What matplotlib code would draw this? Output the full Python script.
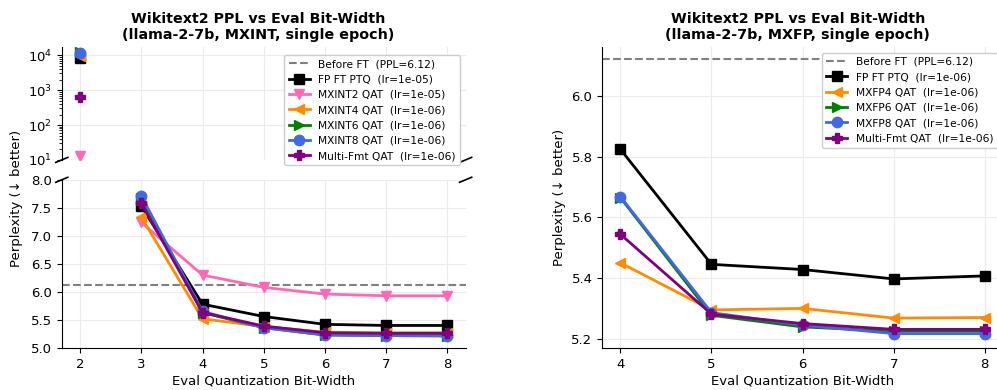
import matplotlib.pyplot as plt
import numpy as np

# ---- left panel: MXINT ----
bits_int = [2, 3, 4, 5, 6, 7, 8]
fp_int = [8500, 7.53, 5.78, 5.56, 5.42, 5.40, 5.40]
mxint2 = [13, 7.24, 6.30, 6.08, 5.96, 5.93, 5.93]
mxint4 = [9600, 7.33, 5.52, 5.38, 5.28, 5.27, 5.27]
mxint6 = [12000, 7.68, 5.63, 5.36, 5.23, 5.22, 5.22]
mxint8 = [11500, 7.71, 5.65, 5.36, 5.23, 5.22, 5.21]
multi_int = [620, 7.58, 5.63, 5.39, 5.27, 5.26, 5.26]

# ---- right panel: MXFP ----
bits_fp = [4, 5, 6, 7, 8]
fp_fp = [5.824, 5.445, 5.428, 5.397, 5.407]
mxfp4 = [5.45, 5.295, 5.30, 5.268, 5.27]
mxfp6 = [5.665, 5.277, 5.239, 5.225, 5.225]
mxfp8 = [5.668, 5.286, 5.245, 5.217, 5.217]
multi_fp = [5.544, 5.281, 5.25, 5.231, 5.231]

before_ft = 6.12

plt.rcParams['xtick.labelsize'] = 9.5
plt.rcParams['ytick.labelsize'] = 9.5

fig = plt.figure(figsize=(9.97, 3.9), dpi=100)
ax_top = fig.add_axes([0.062, 0.590, 0.405, 0.289])
ax_bot = fig.add_axes([0.062, 0.108, 0.405, 0.431])
ax_r = fig.add_axes([0.604, 0.108, 0.402, 0.771])

int_series = [
    (fp_int, 'FP FT PTQ  (lr=1e-05)', 'black', 's'),
    (mxint2, 'MXINT2 QAT  (lr=1e-05)', 'hotpink', 'v'),
    (mxint4, 'MXINT4 QAT  (lr=1e-06)', 'darkorange', '<'),
    (mxint6, 'MXINT6 QAT  (lr=1e-06)', 'green', '>'),
    (mxint8, 'MXINT8 QAT  (lr=1e-06)', 'royalblue', 'o'),
    (multi_int, 'Multi-Fmt QAT  (lr=1e-06)', 'purple', 'P'),
]

handles = []
h = ax_bot.axhline(before_ft, color='gray', ls='--', lw=1.5, label='Before FT  (PPL=6.12)')
handles.append(h)
for vals, lab, col, mk in int_series:
    ax_top.plot(bits_int[:1], vals[:1], color=col, marker=mk, ms=7.5, ls='none')
    l, = ax_bot.plot(bits_int[1:], vals[1:], color=col, marker=mk, ms=7.5, lw=2, label=lab)
    handles.append(l)

ax_top.set_yscale('log')
ax_top.set_ylim(10, 17000)
ax_bot.set_ylim(5.0, 8.0)
for a in (ax_top, ax_bot):
    a.set_xlim(1.7, 8.3)
    a.grid(True, color='#ebebeb', lw=0.8)
    a.spines['right'].set_visible(False)
    a.set_axisbelow(True)
ax_top.spines['bottom'].set_visible(False)
ax_top.spines['top'].set_visible(False)
ax_bot.spines['top'].set_visible(False)
ax_top.tick_params(axis='x', bottom=False, labelbottom=False)
ax_bot.set_xticks(bits_int)
ax_bot.set_yticks(np.arange(5.0, 8.01, 0.5))
ax_bot.set_xlabel('Eval Quantization Bit-Width', fontsize=9.5, labelpad=3)

# break marks
d = 0.015
kw = dict(color='k', clip_on=False, lw=1.2)
for xx in (0, 1):
    ax_top.plot([xx - d, xx + d], [-d * 1.5, d * 1.5], transform=ax_top.transAxes, **kw)
    ax_bot.plot([xx - d, xx + d], [1 - d, 1 + d], transform=ax_bot.transAxes, **kw)

ax_top.set_title('Wikitext2 PPL vs Eval Bit-Width\n(llama-2-7b, MXINT, single epoch)',
                 fontsize=10.3, fontweight='bold', x=0.487)
leg = ax_top.legend(handles=handles, loc='upper right', fontsize=7.7,
                    bbox_to_anchor=(1.0, 0.98), framealpha=1.0, handlelength=2.0)
leg.set_zorder(10)
fig.text(0.017, 0.49, 'Perplexity (↓ better)', rotation=90, va='center', ha='center', fontsize=9.5)

# ---- right ----
fp_series = [
    (fp_fp, 'FP FT PTQ  (lr=1e-06)', 'black', 's'),
    (mxfp4, 'MXFP4 QAT  (lr=1e-06)', 'darkorange', '<'),
    (mxfp6, 'MXFP6 QAT  (lr=1e-06)', 'green', '>'),
    (mxfp8, 'MXFP8 QAT  (lr=1e-06)', 'royalblue', 'o'),
    (multi_fp, 'Multi-Fmt QAT  (lr=1e-06)', 'purple', 'P'),
]
ax_r.axhline(before_ft, color='gray', ls='--', lw=1.5, label='Before FT  (PPL=6.12)')
for vals, lab, col, mk in fp_series:
    ax_r.plot(bits_fp, vals, color=col, marker=mk, ms=7.5, lw=2, label=lab)
ax_r.set_xlim(3.8, 8.2)
ax_r.set_ylim(5.17, 6.16)
ax_r.set_xticks(bits_fp)
ax_r.set_yticks([5.2, 5.4, 5.6, 5.8, 6.0])
ax_r.grid(True, color='#ebebeb', lw=0.8)
ax_r.set_axisbelow(True)
ax_r.spines['right'].set_visible(False)
ax_r.spines['top'].set_visible(False)
ax_r.set_xlabel('Eval Quantization Bit-Width', fontsize=9.5, labelpad=3)
ax_r.set_ylabel('Perplexity (↓ better)', fontsize=9.5)
ax_r.set_title('Wikitext2 PPL vs Eval Bit-Width\n(llama-2-7b, MXFP, single epoch)',
               fontsize=10.3, fontweight='bold', x=0.488)
ax_r.legend(loc='upper right', fontsize=7.7, framealpha=1.0, handlelength=2.0)

fig.savefig('out.png', dpi=100)
